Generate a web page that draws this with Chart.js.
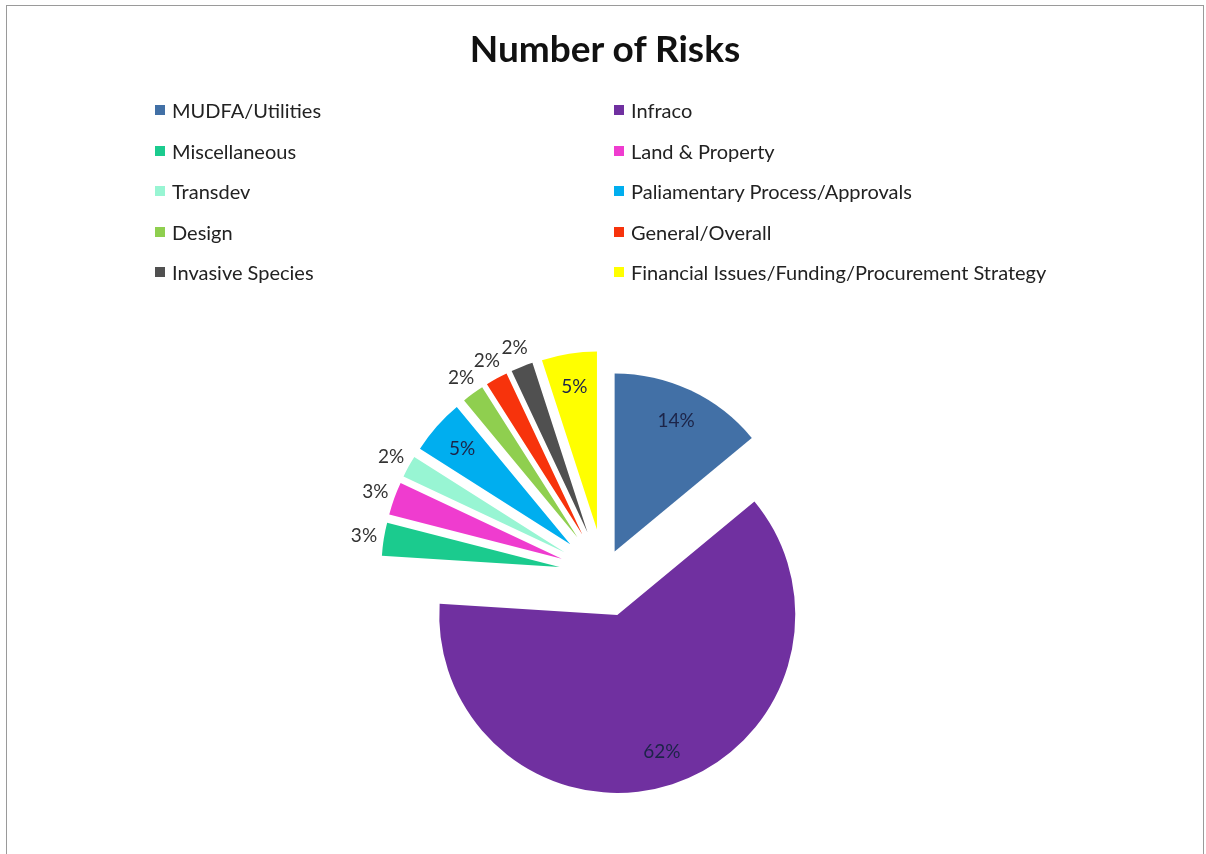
<!DOCTYPE html>
<html>
<head>
<meta charset="utf-8">
<script src="https://cdn.jsdelivr.net/npm/chart.js@4"></script>
<style>
  html, body { margin: 0; padding: 0; background: #fff; }
  body { width: 1206px; height: 854px; position: relative; overflow: hidden; font-family: Lato, 'Open Sans', sans-serif; }
  #frame { position: absolute; left: 6px; top: 5px; width: 1198px; height: 900px; border: 1px solid #9a9a9a; box-sizing: border-box; }
  #wrap { position: absolute; left: 0; top: 0; width: 1206px; height: 854px; }
  #title { position: absolute; left: 0; width: 1210px; top: 26px; text-align: center; font-weight: bold; font-size: 37px; line-height: 44px; color: #111; }
  .lg { position: absolute; font-size: 20px; color: #222; line-height: 20px; white-space: nowrap; }
  .lg span.sw { position: absolute; left: -17px; top: 5px; width: 10px; height: 10px; }
</style>
</head>
<body>
<div id="frame"></div>
<div id="wrap"><canvas id="pie" width="1206" height="854"></canvas></div>
<div id="title">Number of Risks</div>
<div id="legend"></div>
<script>
/* ---------- Data ---------- */
const categories = [
  'MUDFA/Utilities', 'Infraco', 'Miscellaneous', 'Land & Property', 'Transdev',
  'Paliamentary Process/Approvals', 'Design', 'General/Overall', 'Invasive Species',
  'Financial Issues/Funding/Procurement Strategy'
];
const percentages = [14, 62, 3, 3, 2, 5, 2, 2, 2, 5];

/* ---------- Styles ---------- */
const sliceColors = ['#4270a6', '#7030a0', '#1bcb8e', '#ef3ccf', '#98f5d3',
                     '#00aeef', '#8fcf4f', '#f7330c', '#505050', '#ffff00'];
// how far each slice is pulled out from the centre, in px
const sliceOffsets = [25, 43, 45, 45, 45, 45, 45, 45, 45, 45];

/* ---------- HTML legend (two columns, row-major) ---------- */
const legendEl = document.getElementById('legend');
categories.forEach((name, i) => {
  const col = i % 2, row = Math.floor(i / 2);
  const item = document.createElement('div');
  item.className = 'lg';
  item.style.left = (col === 0 ? 172 : 631) + 'px';
  item.style.top = (100 + row * 40.5) + 'px';
  item.innerHTML = '<span class="sw" style="background:' + sliceColors[i] + '"></span>';
  item.appendChild(document.createTextNode(name));
  legendEl.appendChild(item);
});

/* ---------- Exploded slices: translate each arc along its mid angle ---------- */
const explode = {
  id: 'explode',
  beforeDatasetDraw(chart, args) {
    const ctx = chart.ctx;
    args.meta.data.forEach((arc, i) => {
      const mid = (arc.startAngle + arc.endAngle) / 2;
      ctx.save();
      ctx.translate(Math.cos(mid) * sliceOffsets[i], Math.sin(mid) * sliceOffsets[i]);
      arc.draw(ctx);
      ctx.restore();
    });
    return false;
  }
};

/* ---------- Percentage labels ---------- */
const pctLabels = {
  id: 'pctLabels',
  afterDatasetsDraw(chart) {
    const ctx = chart.ctx;
    const meta = chart.getDatasetMeta(0);
    ctx.save();
    ctx.font = '19px Lato, "Open Sans", sans-serif';
    ctx.textAlign = 'center';
    ctx.textBaseline = 'middle';
    meta.data.forEach((arc, i) => {
      const mid = (arc.startAngle + arc.endAngle) / 2;
      const off = sliceOffsets[i];
      const inside = percentages[i] >= 5;
      const dist = inside ? off + arc.outerRadius * 0.81 : off + arc.outerRadius + 20;
      const x = arc.x + Math.cos(mid) * dist;
      const y = arc.y + Math.sin(mid) * dist;
      ctx.fillStyle = inside ? '#1c2448' : '#333';
      ctx.fillText(percentages[i] + '%', x, y);
    });
    ctx.restore();
  }
};

new Chart(document.getElementById('pie'), {
  type: 'pie',
  data: {
    labels: categories,
    datasets: [{
      data: percentages,
      backgroundColor: sliceColors,
      borderWidth: 0
    }]
  },
  options: {
    responsive: false,
    animation: false,
    radius: 178,
    layout: { padding: { left: 2, right: 0, top: 294, bottom: 0 } },
    plugins: {
      legend: { display: false },
      tooltip: { enabled: false }
    }
  },
  plugins: [explode, pctLabels]
});
</script>
</body>
</html>
